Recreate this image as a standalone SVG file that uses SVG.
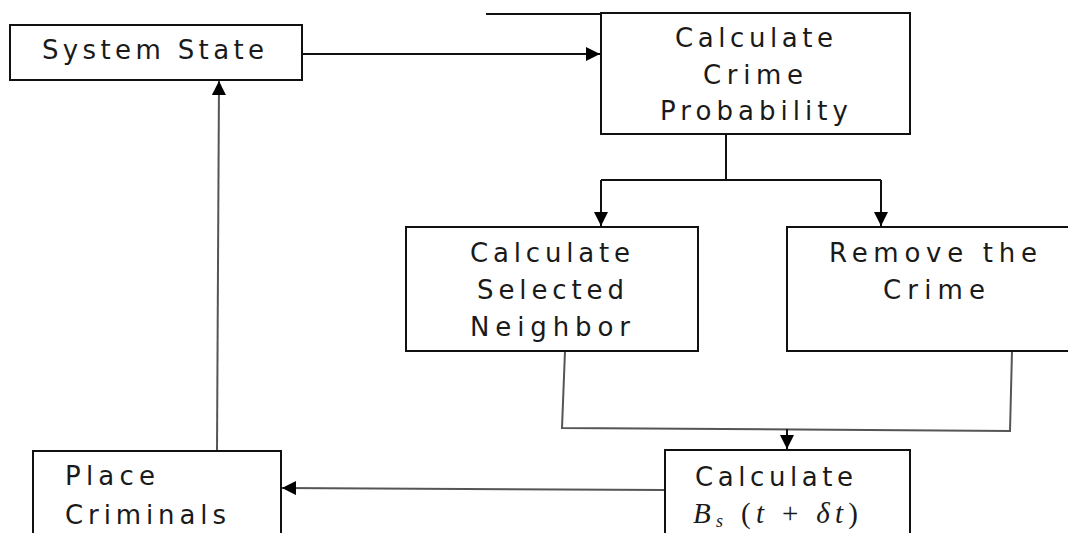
<svg xmlns="http://www.w3.org/2000/svg" width="1068" height="533" viewBox="0 0 1068 533">
<style>
.box{fill:#fff;stroke:#111;stroke-width:2}
.lbl{font-family:"DejaVu Sans","Liberation Sans",sans-serif;font-size:26px;fill:#1a1a1a}
.math{font-family:"Liberation Serif","DejaVu Serif",serif;font-size:29px;fill:#1a1a1a;font-style:italic}
.c{fill:none;stroke:#111;stroke-width:2}
.g{fill:none;stroke:#555;stroke-width:2}
</style>
<defs>
<marker id="ah" viewBox="0 0 10 10" refX="10" refY="5" markerWidth="15" markerHeight="14" markerUnits="userSpaceOnUse" orient="auto">
<path d="M0,0 L10,5 L0,10 z" fill="#000"/>
</marker>
</defs>
<g id="connectors">
<line class="c" x1="302" y1="54" x2="600" y2="54" marker-end="url(#ah)"/>
<line class="c" x1="486" y1="14" x2="793" y2="14" stroke-width="2.5"/>
<polyline class="c" points="726,134 726,180"/>
<polyline class="c" points="601,180 881,180"/>
<line class="c" x1="601" y1="180" x2="601" y2="226" marker-end="url(#ah)"/>
<line class="c" x1="881" y1="180" x2="881" y2="226" marker-end="url(#ah)"/>
<polyline class="g" points="565,351 562,428 1010,431 1012,351"/>
<line class="c" x1="787" y1="429" x2="787" y2="449" marker-end="url(#ah)"/>
<line class="g" x1="665" y1="490" x2="282" y2="488" marker-end="url(#ah)"/>
<line class="g" x1="217" y1="451" x2="219" y2="81" marker-end="url(#ah)"/>
</g>
<g id="system-state">
<rect class="box" x="10" y="25" width="292" height="55"/>
<text class="lbl" x="42" y="59" textLength="222" lengthAdjust="spacing">System State</text>
</g>
<g id="crime-probability">
<rect class="box" x="601" y="13" width="309" height="121"/>
<text class="lbl" x="675" y="47" textLength="158" lengthAdjust="spacing">Calculate</text>
<text class="lbl" x="703" y="84" textLength="100" lengthAdjust="spacing">Crime</text>
<text class="lbl" x="660" y="120" textLength="188" lengthAdjust="spacing">Probability</text>
</g>
<g id="selected-neighbor">
<rect class="box" x="406" y="227" width="292" height="124"/>
<text class="lbl" x="470" y="262" textLength="160" lengthAdjust="spacing">Calculate</text>
<text class="lbl" x="477" y="299" textLength="147" lengthAdjust="spacing">Selected</text>
<text class="lbl" x="470" y="336" textLength="160" lengthAdjust="spacing">Neighbor</text>
</g>
<g id="remove-crime">
<rect class="box" x="787" y="227" width="300" height="124"/>
<text class="lbl" x="829" y="262" textLength="208" lengthAdjust="spacing">Remove the</text>
<text class="lbl" x="883" y="299" textLength="102" lengthAdjust="spacing">Crime</text>
</g>
<g id="calculate-bs">
<rect class="box" x="665" y="450" width="245" height="100"/>
<text class="lbl" x="695" y="486" textLength="158" lengthAdjust="spacing">Calculate</text>
<text class="math" x="693" y="523" textLength="165" lengthAdjust="spacing"><tspan>B</tspan><tspan font-size="18" dy="4">s</tspan><tspan dy="-4" font-style="normal"> (</tspan><tspan>t</tspan><tspan font-style="normal"> + </tspan><tspan>δt</tspan><tspan font-style="normal">)</tspan></text>
</g>
<g id="place-criminals">
<rect class="box" x="33" y="451" width="248" height="100"/>
<text class="lbl" x="65" y="485" textLength="90" lengthAdjust="spacing">Place</text>
<text class="lbl" x="65" y="524" textLength="161" lengthAdjust="spacing">Criminals</text>
</g>
</svg>
